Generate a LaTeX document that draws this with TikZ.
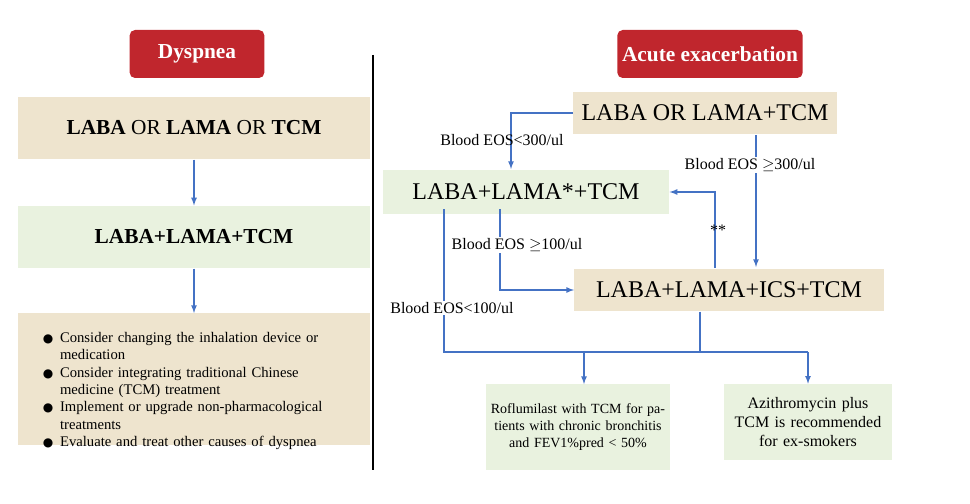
\documentclass[tikz,border=0pt]{standalone}
\usepackage{fontspec}
\setmainfont{Liberation Serif}
\newfontfamily\symfont{DejaVu Sans}
\usetikzlibrary{positioning}
\definecolor{headred}{HTML}{C0262D}
\definecolor{tanbox}{HTML}{EEE4CE}
\definecolor{greenbox}{HTML}{E9F2DF}
\definecolor{flowblue}{HTML}{4472C4}
\begin{document}
\begin{tikzpicture}[x=0.75pt,y=-0.75pt,
    head/.style = {fill=headred, rounded corners=4pt, text=white, font=\bfseries\fontsize{16}{18}\selectfont},
    tan/.style = {fill=tanbox, inner sep=0pt},
    green/.style = {fill=greenbox, inner sep=0pt},
    flow/.style = {draw=flowblue, line width=1pt, -latex},
    link/.style = {draw=flowblue, line width=1.6pt},
    lbl/.style = {font=\fontsize{12}{14}\selectfont, inner sep=1pt}]
    \useasboundingbox (0,0) rectangle (970,503);
    % left side
    \node[head, minimum width=101pt, minimum height=36pt] (dysp) at (197,54) {Dyspnea};
    \node[tan, minimum width=264pt, minimum height=47pt, font=\fontsize{16}{18}\selectfont] (single) at (194,128) {\textbf{LABA} OR \textbf{LAMA} OR \textbf{TCM}};
    \node[green, minimum width=264pt, minimum height=47pt, font=\bfseries\fontsize{16}{18}\selectfont] (dual) at (194,237) {LABA+LAMA+TCM};
    \node[tan, minimum width=264pt, minimum height=99pt, anchor=north] (advice) at (194,313) {};
    \node[anchor=north west, text width=225pt, font=\fontsize{11}{13}\selectfont] (tips) at (22,315) {
        \begin{itemize}\setlength{\itemsep}{0pt}\setlength{\parskip}{0pt}\setlength{\topsep}{0pt}\setlength{\leftmargini}{24pt}
        \vspace{-4pt}
        \item[\symfont\small●] Consider changing the inhalation device or medication
        \item[\symfont\small●] Consider integrating traditional Chinese medicine (TCM) treatment
        \item[\symfont\small●] Implement or upgrade non-pharmacological treatments
        \item[\symfont\small●] Evaluate and treat other causes of dyspnea
        \end{itemize}};
    \draw[flow] (single) -- (dual);
    \draw[flow] (dual) -- (advice);
    % divider
    \coordinate (divtop) at (373,55);
    \coordinate (divbot) at (373,470);
    \draw[line width=1.5pt] (divtop) -- (divbot);
    % right side
    \node[head, minimum width=139pt, minimum height=36pt] (acute) at (710,54) {Acute exacerbation};
    \node[tan, minimum width=198pt, minimum height=32pt, font=\fontsize{18}{20}\selectfont] (mono) at (705,113) {LABA OR LAMA+TCM};
    \node[green, minimum width=215pt, minimum height=33pt, font=\fontsize{18}{20}\selectfont] (lal) at (526,192) {LABA+LAMA*+TCM};
    \node[tan, minimum width=232pt, minimum height=32pt, font=\fontsize{18}{20}\selectfont] (triple) at (729,290) {LABA+LAMA+ICS+TCM};
    \node[green, minimum width=138pt, minimum height=64pt, text width=134pt, align=center, font=\fontsize{10.5}{12.5}\selectfont] (roflu) at (578,427) {Roflumilast with TCM for patients with chronic bronchitis and FEV1\%pred \textless{} 50\%};
    \node[green, minimum width=126pt, minimum height=57pt, text width=120pt, align=center, font=\fontsize{12}{14}\selectfont] (azith) at (808,422) {Azithromycin plus TCM is recommended for ex-smokers};
    \coordinate (join) at (700,352);
    \coordinate (split) at (584,352);
    \draw[flow] (mono.west) -| (511,169);
    \node[lbl] (l300) at (502,140) {Blood EOS<300/ul};
    \draw[flow] (756,135) -- (756,267);
    \node[lbl, fill=white] (h300) at (750,165) {Blood EOS $\geq$300/ul};
    \draw[flow] (715,268) |- (lal.east);
    \node[lbl] (stars) at (718,230) {**};
    \draw[flow] (500,209) |- (triple.west);
    \node[lbl, fill=white] (h100) at (517,245) {Blood EOS $\geq$100/ul};
    \draw[link] (444,209) -- (444,352) -- (808,352);
    \draw[link] (triple.south -| join) -- (join);
    \node[lbl, fill=white] (l100) at (452,308) {Blood EOS<100/ul};
    \draw[flow] (split) -- (split |- roflu.north);
    \draw[flow] (808,352) -- (azith);
\end{tikzpicture}
\end{document}
